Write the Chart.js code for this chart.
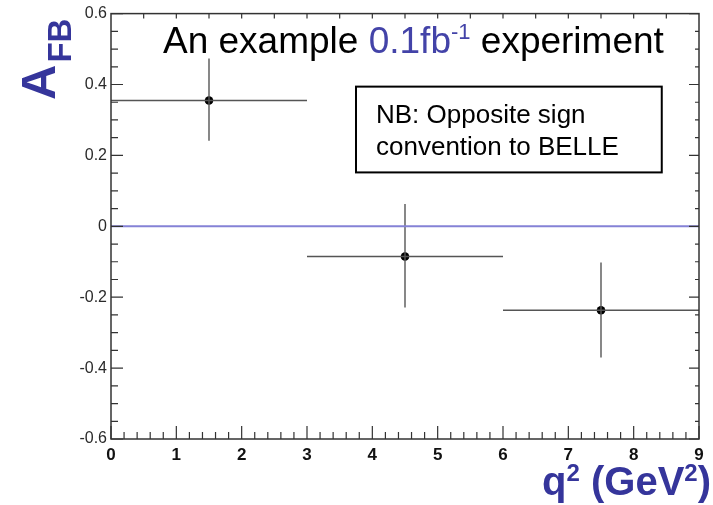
<!DOCTYPE html>
<html>
<head>
<meta charset="utf-8">
<script src="https://cdn.jsdelivr.net/npm/chart.js@4.4.1/dist/chart.umd.min.js"></script>
<style>
  html, body { margin: 0; padding: 0; background: #fff; }
  #wrap { width: 713px; height: 505px; position: relative; }
</style>
</head>
<body>
<div id="wrap"><canvas id="afbChart"></canvas></div>
<script>
// q^2 bins and the forward-backward asymmetry measured in each
const binCenters = [1.5, 4.5, 7.5];
const binLow = [0, 3, 6];
const binHigh = [3, 6, 9];
const afbValues = [0.355, -0.085, -0.237];
const afbErrUp = [0.118, 0.148, 0.135];
const afbErrDown = [0.114, 0.144, 0.133];

const xTicks = [0, 1, 2, 3, 4, 5, 6, 7, 8, 9];
const yTicks = [-0.6, -0.4, -0.2, 0, 0.2, 0.4, 0.6];

const blue = '#35359b';
const FONT = '"Liberation Sans", Arial, Helvetica, sans-serif';

// horizontal bars (bin width) and vertical bars (errors) as plain line datasets
const hBars = binCenters.map((c, i) => ({
  data: [{x: binLow[i], y: afbValues[i]}, {x: binHigh[i], y: afbValues[i]}],
  showLine: true, borderColor: '#555', borderWidth: 1.4, pointRadius: 0
}));
const vBars = binCenters.map((c, i) => ({
  data: [{x: c, y: afbValues[i] - afbErrDown[i]}, {x: c, y: afbValues[i] + afbErrUp[i]}],
  showLine: true, borderColor: '#555', borderWidth: 1.4, pointRadius: 0
}));

const zeroLine = {
  data: [{x: xTicks[0], y: 0}, {x: xTicks[xTicks.length - 1], y: 0}],
  showLine: true, borderColor: '#8582d6', borderWidth: 2, pointRadius: 0
};

const points = {
  data: binCenters.map((c, i) => ({x: c, y: afbValues[i]})),
  pointRadius: 4.3, pointBackgroundColor: '#000', pointBorderWidth: 0, showLine: false
};

// ROOT-style frame: inward ticks on all four sides, titles and the note box
const frame = {
  id: 'frame',
  afterDraw(chart) {
    const ctx = chart.ctx;
    const a = chart.chartArea;
    const xs = chart.scales.x, ys = chart.scales.y;
    ctx.save();

    ctx.strokeStyle = '#333';
    ctx.lineWidth = 1.5;
    ctx.strokeRect(a.left, a.top, a.right - a.left, a.bottom - a.top);

    ctx.lineWidth = 1.2;
    ctx.beginPath();
    for (let k = 0; k <= 45; k++) {
      const v = k * 0.2;
      const px = xs.getPixelForValue(v);
      const len = k % 5 === 0 ? 13 : 7;
      ctx.moveTo(px, a.bottom); ctx.lineTo(px, a.bottom - len);
    }
    for (let k = 1; k < 18; k++) {
      const px = xs.getPixelForValue(k * 0.5);
      ctx.moveTo(px, a.top); ctx.lineTo(px, a.top + 5);
    }
    for (let k = 0; k <= 24; k++) {
      const v = -0.6 + k * 0.05;
      const py = ys.getPixelForValue(v);
      const major = k % 4 === 0;
      ctx.moveTo(a.left, py); ctx.lineTo(a.left + (major ? 12 : 7), py);
      ctx.moveTo(a.right, py); ctx.lineTo(a.right - (major ? 10 : 4), py);
    }
    ctx.stroke();

    // title inside the frame
    ctx.textBaseline = 'alphabetic';
    ctx.textAlign = 'left';
    let x = 163;
    const base = 53;
    const parts = [
      {t: 'An example ', c: '#000', s: 37, dy: 0},
      {t: '0.1fb', c: '#4343a8', s: 37, dy: 0},
      {t: '-1', c: '#4343a8', s: 22, dy: -14},
      {t: ' experiment', c: '#000', s: 37, dy: 0}
    ];
    parts.forEach(p => {
      ctx.font = p.s + 'px ' + FONT;
      ctx.fillStyle = p.c;
      ctx.fillText(p.t, x, base + p.dy);
      x += ctx.measureText(p.t).width;
    });

    // note box, anchored in data space
    const bx0 = xs.getPixelForValue(3.75), bx1 = xs.getPixelForValue(8.43);
    const by0 = ys.getPixelForValue(0.394), by1 = ys.getPixelForValue(0.152);
    ctx.strokeStyle = '#000';
    ctx.lineWidth = 2;
    ctx.strokeRect(bx0, by0, bx1 - bx0, by1 - by0);
    ctx.fillStyle = '#000';
    ctx.font = '26px ' + FONT;
    ctx.fillText('NB: Opposite sign', bx0 + 20, by0 + 36);
    ctx.fillText('convention to BELLE', bx0 + 20, by0 + 68);

    // y axis title A_FB, rotated
    ctx.save();
    ctx.translate(55, 100);
    ctx.rotate(-Math.PI / 2);
    ctx.fillStyle = blue;
    ctx.font = 'bold 49px ' + FONT;
    ctx.fillText('A', 0, 0);
    const aw = ctx.measureText('A').width;
    ctx.font = 'bold 33px ' + FONT;
    ctx.fillText('FB', aw + 2, 16);
    ctx.restore();

    // x axis title q^2 (GeV^2), right aligned
    const xt = [
      {t: 'q', s: 40, dy: 0},
      {t: '2', s: 24, dy: -14},
      {t: ' (GeV', s: 40, dy: 0},
      {t: '2', s: 24, dy: -14},
      {t: ')', s: 40, dy: 0}
    ];
    let total = 0;
    xt.forEach(p => { ctx.font = 'bold ' + p.s + 'px ' + FONT; total += ctx.measureText(p.t).width; });
    let tx = 711 - total;
    ctx.fillStyle = blue;
    xt.forEach(p => {
      ctx.font = 'bold ' + p.s + 'px ' + FONT;
      ctx.fillText(p.t, tx, 495 + p.dy);
      tx += ctx.measureText(p.t).width;
    });

    ctx.restore();
  }
};

new Chart(document.getElementById('afbChart'), {
  type: 'scatter',
  data: { datasets: [zeroLine, ...hBars, ...vBars, points] },
  options: {
    responsive: true,
    maintainAspectRatio: false,
    animation: false,
    layout: { padding: { top: 13, right: 14, left: 0, bottom: 0 } },
    plugins: { legend: { display: false }, tooltip: { enabled: false } },
    scales: {
      x: {
        type: 'linear', min: 0, max: 9,
        afterBuildTicks: s => { s.ticks = xTicks.map(v => ({value: v})); },
        afterFit: s => { s.height = 66; },
        grid: { display: false, drawTicks: false },
        border: { display: false },
        ticks: { padding: 6, color: '#111', font: { family: FONT, size: 17, weight: 'bold' } }
      },
      y: {
        type: 'linear', min: -0.6, max: 0.6,
        afterBuildTicks: s => { s.ticks = yTicks.map(v => ({value: v})); },
        afterFit: s => { s.width = 111; },
        grid: { display: false, drawTicks: false },
        border: { display: false },
        ticks: {
          padding: 4, color: '#2a2a2a', font: { family: FONT, size: 16 },
          callback: v => Math.abs(v) < 1e-9 ? '0' : v.toFixed(1)
        }
      }
    }
  },
  plugins: [frame]
});
</script>
</body>
</html>
